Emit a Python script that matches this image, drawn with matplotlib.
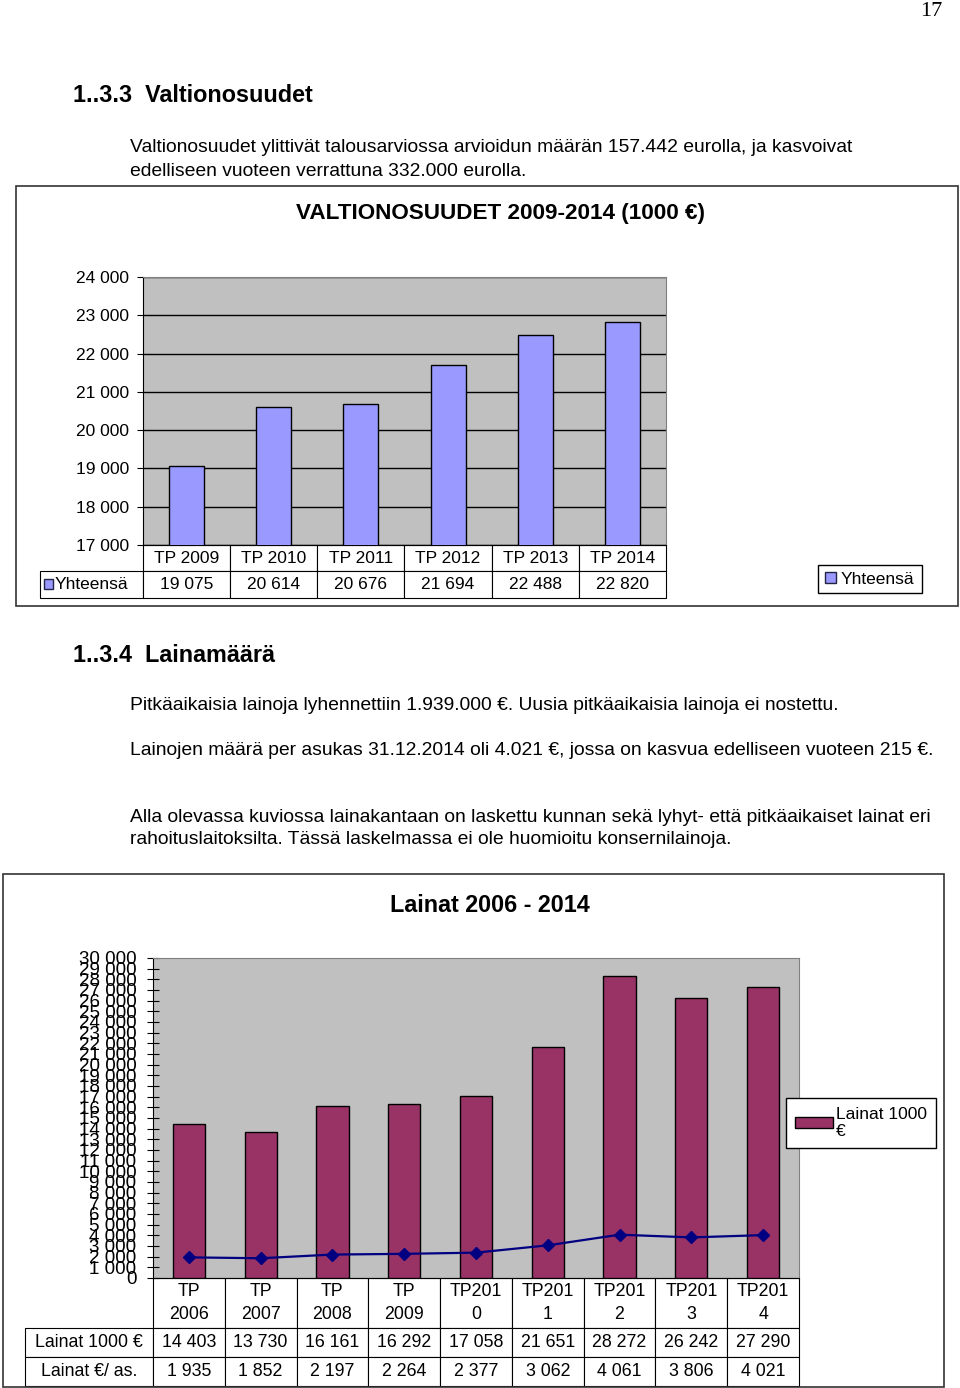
import matplotlib
matplotlib.use("Agg")
import matplotlib.pyplot as plt
from matplotlib.patches import Rectangle
import numpy as np

plt.rcParams['font.family'] = ['Liberation Sans', 'DejaVu Sans']

# --- data ---
years1 = ["TP 2009", "TP 2010", "TP 2011", "TP 2012", "TP 2013", "TP 2014"]
valtionosuudet = [19075, 20614, 20676, 21694, 22488, 22820]

years2 = ["TP\n2006", "TP\n2007", "TP\n2008", "TP\n2009", "TP201\n0",
          "TP201\n1", "TP201\n2", "TP201\n3", "TP201\n4"]
lainat = [14403, 13730, 16161, 16292, 17058, 21651, 28272, 26242, 27290]
lainat_as = [1935, 1852, 2197, 2264, 2377, 3062, 4061, 3806, 4021]

W, H = 960, 1388


def fx(x):
    return x / W


def fy(y):
    return 1 - y / H


def fmt(v):
    return f"{v:,}".replace(",", " ")


fig = plt.figure(figsize=(W / 100, H / 100), dpi=100)

# page text
body = 13.9
fig.text(fx(931), fy(11), "17", ha='center', va='center', fontsize=16,
         family='Liberation Serif')
fig.text(fx(73), fy(96), "1..3.3  Valtionosuudet", ha='left', va='center',
         fontsize=16.8, fontweight='bold')
fig.text(fx(130), fy(147), "Valtionosuudet ylittivät talousarviossa arvioidun määrän 157.442 eurolla, ja kasvoivat",
         ha='left', va='center', fontsize=body)
fig.text(fx(130), fy(172), "edelliseen vuoteen verrattuna 332.000 eurolla.",
         ha='left', va='center', fontsize=body)
fig.text(fx(73), fy(655), "1..3.4  Lainamäärä", ha='left', va='center',
         fontsize=16.8, fontweight='bold')
fig.text(fx(130), fy(706), "Pitkäaikaisia lainoja lyhennettiin 1.939.000 €. Uusia pitkäaikaisia lainoja ei nostettu.",
         ha='left', va='center', fontsize=body)
fig.text(fx(130), fy(750), "Lainojen määrä per asukas 31.12.2014 oli 4.021 €, jossa on kasvua edelliseen vuoteen 215 €.",
         ha='left', va='center', fontsize=body)
fig.text(fx(130), fy(818), "Alla olevassa kuviossa lainakantaan on laskettu kunnan sekä lyhyt- että pitkäaikaiset lainat eri",
         ha='left', va='center', fontsize=body)
fig.text(fx(130), fy(840), "rahoituslaitoksilta. Tässä laskelmassa ei ole huomioitu konsernilainoja.",
         ha='left', va='center', fontsize=body)

# chart frames
fig.add_artist(Rectangle((fx(16), fy(606)), (958 - 16) / W, (606 - 186) / H,
                         transform=fig.transFigure, fill=False, ec='#333333', lw=1.2))
fig.add_artist(Rectangle((fx(3), fy(1387)), (944 - 3) / W, (1387 - 874) / H,
                         transform=fig.transFigure, fill=False, ec='#333333', lw=1.2))

# ---------------- chart 1 ----------------
fig.text(fx(501), fy(213), "VALTIONOSUUDET 2009-2014 (1000 €)", ha='center', va='center',
         fontsize=16.2, fontweight='bold')
ax1 = fig.add_axes([fx(143), fy(545), 523 / W, 268 / H])
ax1.set_facecolor('#c0c0c0')
x1 = np.arange(len(years1))
ax1.bar(x1, valtionosuudet, width=0.4, color='#9999ff', edgecolor='black', lw=1, zorder=3)
ax1.set_xlim(-0.5, len(years1) - 0.5)
ax1.set_ylim(17000, 24000)
ax1.set_yticks(range(17000, 24001, 1000))
ax1.set_yticklabels([fmt(v) for v in range(17000, 24001, 1000)])
ax1.set_xticks([])
ax1.tick_params(axis='y', direction='out', length=4, pad=6, labelsize=12.5)
ax1.yaxis.grid(True, color='black', lw=1)
ax1.set_axisbelow(True)
for s in ['top', 'right']:
    ax1.spines[s].set_color('#808080')

tbl1 = ax1.table(cellText=[[""] + years1, ["Yhteensä"] + [fmt(v) for v in valtionosuudet]],
                 colWidths=[103] + [87.2] * 6, cellLoc='center',
                 bbox=[-103 / 523, -53 / 268, 626 / 523, 53 / 268])
tbl1.auto_set_font_size(False)
tbl1.set_fontsize(12.5)
for (r, c), cell in tbl1.get_celld().items():
    cell.set_linewidth(0.8)
tbl1[0, 0].visible_edges = 'open'
fig.add_artist(Rectangle((fx(44), fy(589)), 9 / W, 10 / H, transform=fig.transFigure,
                         fc='#9999ff', ec='#222244', lw=1))

h1 = Rectangle((0, 0), 1, 1, fc='#9999ff', ec='#222244', lw=1)
fig.legend([h1], ["Yhteensä"], loc='center', bbox_to_anchor=(fx(870), fy(579)),
           fancybox=False, edgecolor='black', framealpha=1, fontsize=12.5,
           handlelength=0.6, handleheight=0.6, handletextpad=0.3,
           borderpad=0.4)

# ---------------- chart 2 ----------------
fig.text(fx(490), fy(906), "Lainat 2006 - 2014", ha='center', va='center',
         fontsize=16.8, fontweight='bold')
ax2 = fig.add_axes([fx(153), fy(1278), 646 / W, 320 / H])
ax2.set_facecolor('#c0c0c0')
x2 = np.arange(len(years2))
ax2.bar(x2, lainat, width=0.45, color='#993366', edgecolor='black', lw=1, zorder=3)
ax2.plot(x2, lainat_as, color='#000080', marker='D', ms=6, lw=1.6, zorder=4)
ax2.set_xlim(-0.5, len(years2) - 0.5)
ax2.set_ylim(0, 30000)
ax2.set_yticks(range(0, 30001, 1000))
ax2.set_yticklabels([fmt(v) for v in range(0, 30001, 1000)])
ax2.set_xticks([])
ax2.tick_params(axis='y', direction='inout', length=8, pad=8, labelsize=13.5)
for s in ['top', 'right']:
    ax2.spines[s].set_color('#808080')

rows2 = [[""] + years2,
         ["Lainat 1000 €"] + [fmt(v) for v in lainat],
         ["Lainat €/ as."] + [fmt(v) for v in lainat_as]]
tbl2 = ax2.table(cellText=rows2, colWidths=[128] + [71.8] * 9, cellLoc='center',
                 bbox=[-128 / 646, -108 / 320, 774 / 646, 108 / 320])
tbl2.auto_set_font_size(False)
tbl2.set_fontsize(12.8)
for (r, c), cell in tbl2.get_celld().items():
    cell.set_linewidth(0.8)
    cell.set_height(50 if r == 0 else 29)
    if r == 0:
        cell.get_text().set_linespacing(1.45)
tbl2[0, 0].visible_edges = 'open'

h2 = Rectangle((0, 0), 1, 1, fc='#993366', ec='black', lw=1)
fig.legend([h2], ["Lainat 1000\n€"], loc='center', bbox_to_anchor=(fx(861), fy(1123)),
           fancybox=False, edgecolor='black', framealpha=1, fontsize=12.5,
           handlelength=2.2, handleheight=0.6, handletextpad=0.2,
           borderpad=0.5)

fig.savefig("out.png", dpi=100)
